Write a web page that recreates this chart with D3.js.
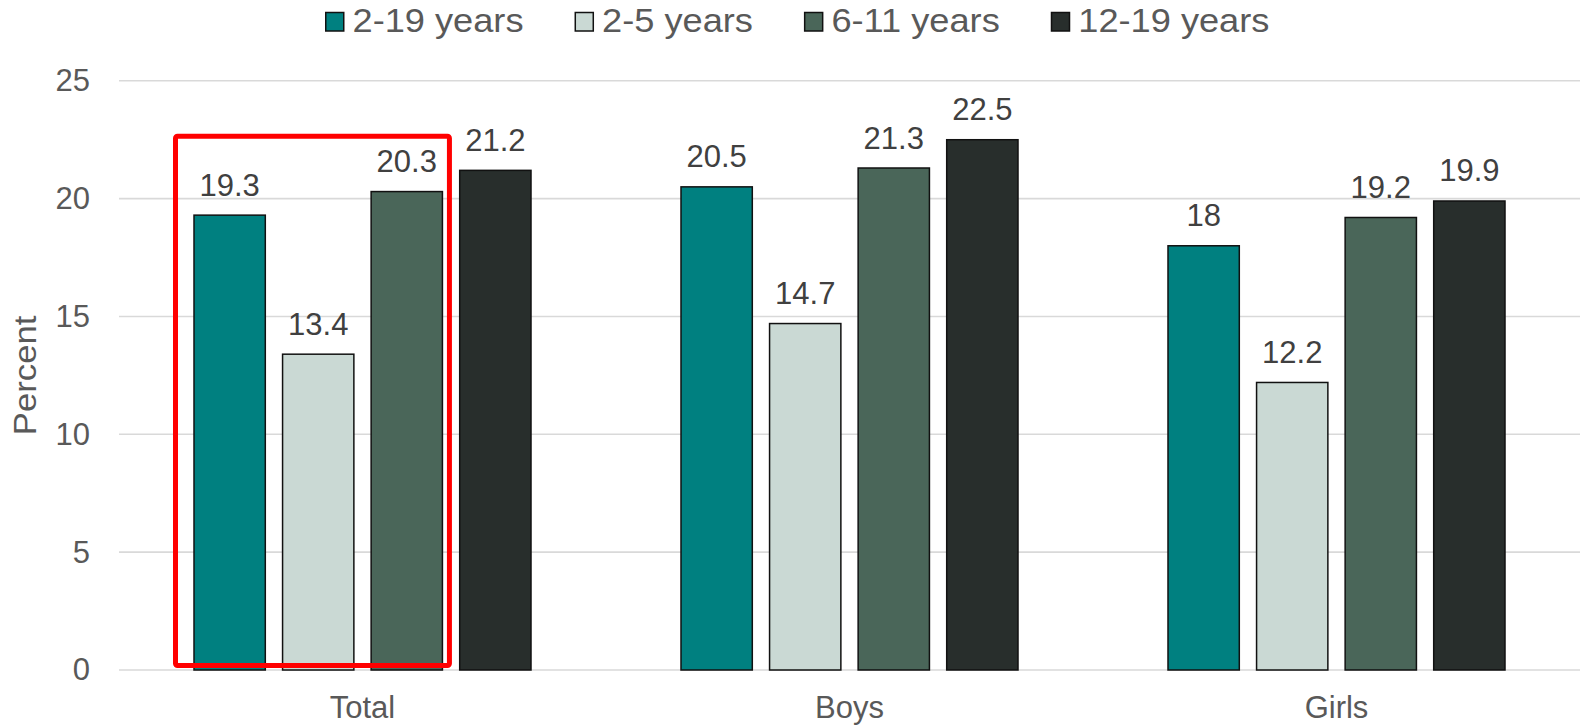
<!DOCTYPE html>
<html>
<head>
<meta charset="utf-8">
<script src="https://cdn.jsdelivr.net/npm/d3@7"></script>
<style>
  html, body { margin: 0; padding: 0; background: #fff; }
  svg { display: block; font-family: "Liberation Sans", Arial, sans-serif; }
</style>
</head>
<body>
<svg id="chart" width="1580" height="725"></svg>
<script>
// Categories and age-group series (percent)
const categories = ["Total", "Boys", "Girls"];
const seriesNames = ["2-19 years", "2-5 years", "6-11 years", "12-19 years"];
const age2to19 = [19.3, 20.5, 18];
const age2to5 = [13.4, 14.7, 12.2];
const age6to11 = [20.3, 21.3, 19.2];
const age12to19 = [21.2, 22.5, 19.9];
const yTicks = [0, 5, 10, 15, 20, 25];
const seriesColors = ["#008080", "#CAD9D4", "#4A6659", "#282E2C"];

const seriesValues = [age2to19, age2to5, age6to11, age12to19];
const rows = categories.map((c, i) => ({
  category: c,
  values: seriesNames.map((s, j) => ({ series: s, value: seriesValues[j][i] }))
}));

const svg = d3.select("#chart");
const plot = { left: 119, right: 1580, top: 80.8, bottom: 670 };

const y = d3.scaleLinear().domain([0, 25]).range([plot.bottom, plot.top]);
const x0 = d3.scaleBand().domain(categories).range([plot.left, plot.right]);
const groupPad = 75;
const x1 = d3.scaleBand().domain(seriesNames)
  .range([groupPad, x0.bandwidth() - groupPad]).paddingInner(0.195);
const color = d3.scaleOrdinal().domain(seriesNames).range(seriesColors);

// Horizontal gridlines
svg.append("g")
  .selectAll("line")
  .data(yTicks)
  .join("line")
  .attr("x1", plot.left).attr("x2", plot.right)
  .attr("y1", d => y(d)).attr("y2", d => y(d))
  .attr("stroke", "#D9D9D9").attr("stroke-width", 1.6);

// Y axis labels
const yAxis = svg.append("g")
  .attr("transform", `translate(${plot.left - 29},0)`)
  .call(d3.axisLeft(y).tickValues(yTicks).tickSize(0).tickPadding(0));
yAxis.select(".domain").remove();
yAxis.selectAll("text")
  .attr("fill", "#595959")
  .style("font-size", "31px")
  .style("font-family", "'Liberation Sans', Arial, sans-serif");

// Y axis title
svg.append("text")
  .attr("transform", `translate(35.5,${(plot.top + plot.bottom) / 2}) rotate(-90) scale(1.12,1)`)
  .attr("text-anchor", "middle")
  .attr("fill", "#595959")
  .style("font-size", "31px")
  .text("Percent");

// X axis labels
const xAxis = svg.append("g")
  .attr("transform", `translate(0,${plot.bottom})`)
  .call(d3.axisBottom(x0).tickSize(0).tickPadding(26));
xAxis.select(".domain").remove();
xAxis.selectAll("text")
  .attr("fill", "#595959")
  .style("font-size", "31px")
  .style("font-family", "'Liberation Sans', Arial, sans-serif");

// Bars
const groups = svg.append("g")
  .selectAll("g")
  .data(rows)
  .join("g")
  .attr("transform", d => `translate(${x0(d.category)},0)`);

groups.selectAll("rect")
  .data(d => d.values)
  .join("rect")
  .attr("x", d => x1(d.series))
  .attr("y", d => y(d.value))
  .attr("width", x1.bandwidth())
  .attr("height", d => y(0) - y(d.value))
  .attr("fill", d => color(d.series))
  .attr("stroke", "#111")
  .attr("stroke-width", 1.5);

// Value labels
groups.selectAll("text.val")
  .data(d => d.values)
  .join("text")
  .attr("class", "val")
  .attr("x", d => x1(d.series) + x1.bandwidth() / 2)
  .attr("y", d => y(d.value) - 19.5)
  .attr("text-anchor", "middle")
  .attr("fill", "#404040")
  .style("font-size", "31px")
  .text(d => String(d.value));

// Highlight box around the first three bars of the Total group
const first = rows[0];
const boxLeft = x0(first.category) + x1(seriesNames[0]) - 18.5;
const boxRight = x0(first.category) + x1(seriesNames[2]) + x1.bandwidth() + 7;
const boxTop = y(first.values[0].value) - 79;
const boxBottom = y(0) - 4.5;
svg.append("rect")
  .attr("x", boxLeft).attr("y", boxTop)
  .attr("width", boxRight - boxLeft).attr("height", boxBottom - boxTop)
  .attr("rx", 2)
  .attr("fill", "none")
  .attr("stroke", "#FF0000")
  .attr("stroke-width", 5);

// Legend
const legendStretch = 1.065;
const legend = svg.append("g").attr("transform", "translate(325,0)");
let cursor = 0;
seriesNames.forEach(name => {
  const item = legend.append("g").attr("transform", `translate(${cursor},0)`);
  item.append("rect")
    .attr("x", 0.75).attr("y", 12.5)
    .attr("width", 18).attr("height", 18.5)
    .attr("fill", color(name))
    .attr("stroke", "#111").attr("stroke-width", 1.5);
  const t = item.append("text")
    .attr("transform", `translate(27.5,32.3) scale(${legendStretch},1)`)
    .attr("fill", "#595959")
    .style("font-size", "34px")
    .text(name);
  cursor += 27.5 + t.node().getComputedTextLength() * legendStretch + 51;
});
</script>
</body>
</html>
